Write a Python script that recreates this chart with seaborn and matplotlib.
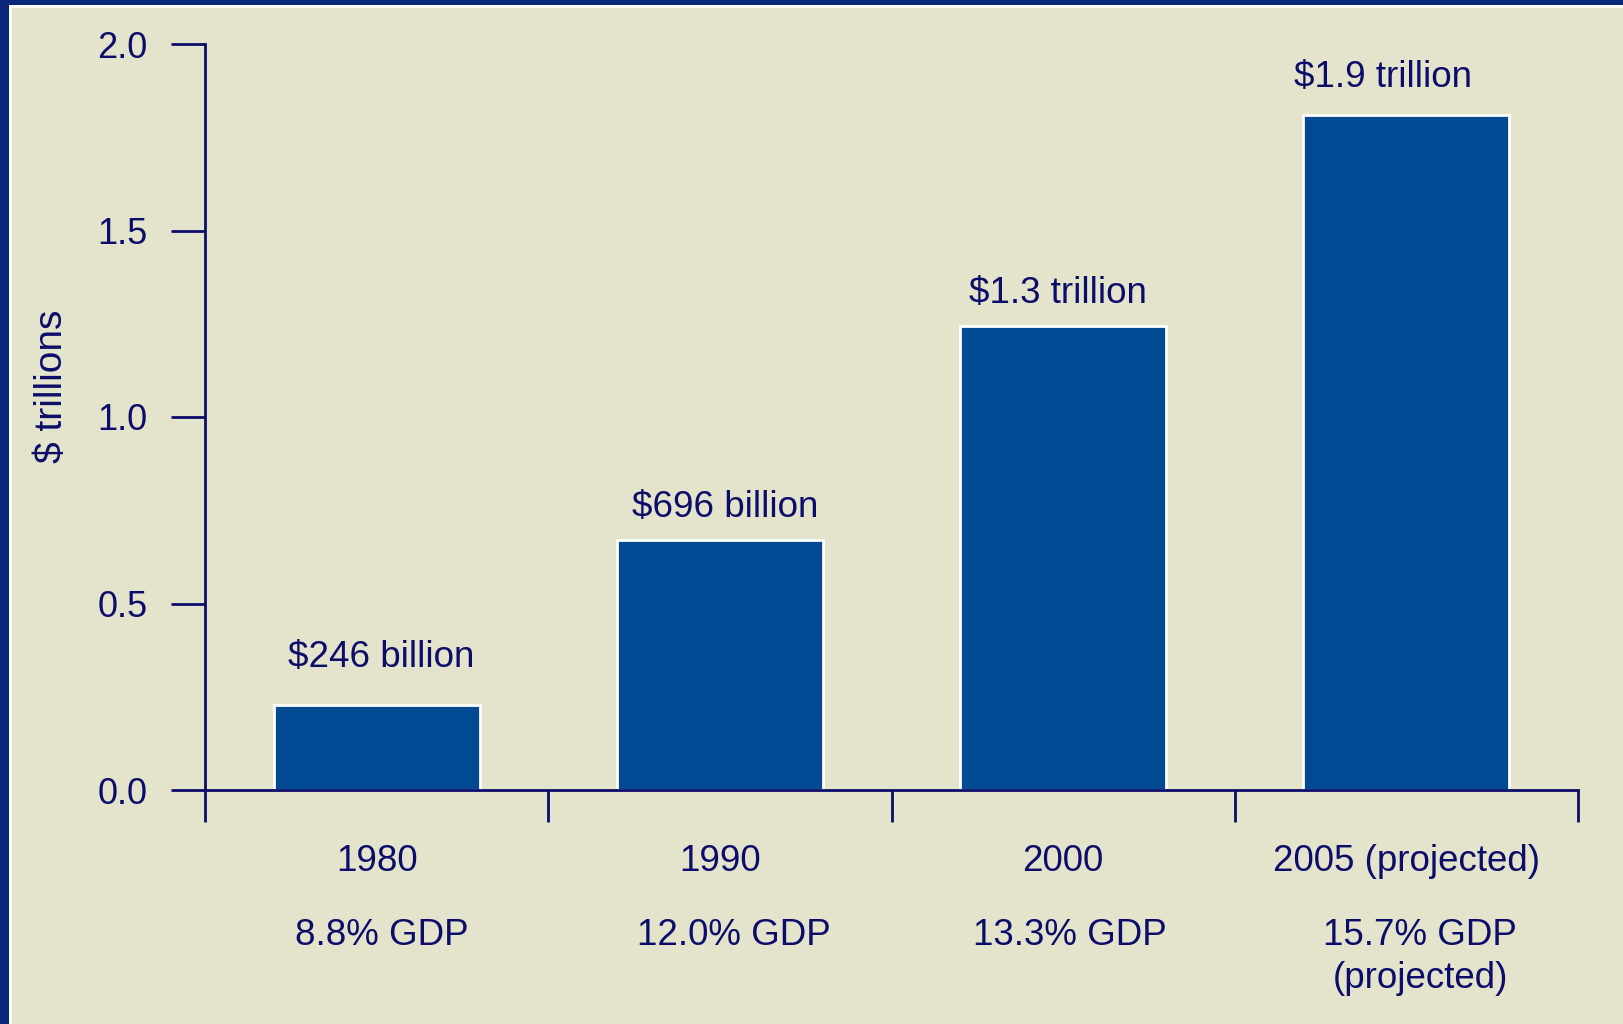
import matplotlib
matplotlib.use("Agg")
import matplotlib.pyplot as plt
import matplotlib.transforms as mtransforms
from matplotlib.patches import Rectangle
import seaborn as sns
import pandas as pd

# ---- data ----
years = ["1980", "1990", "2000", "2005 (projected)"]
spending = [0.228, 0.670, 1.244, 1.810]          # bar heights, $ trillions
value_labels = ["$246 billion", "$696 billion", "$1.3 trillion", "$1.9 trillion"]
gdp_labels = ["8.8% GDP", "12.0% GDP", "13.3% GDP", "15.7% GDP\n(projected)"]
y_ticks = [0.0, 0.5, 1.0, 1.5, 2.0]
y_ticklabels = ["0.0", "0.5", "1.0", "1.5", "2.0"]

# ---- style ----
BG = "#E4E4CC"
BORDER = "#0B2878"
BAR = "#004A93"
INK = "#0C0C6A"

sns.set_theme(style="white")
plt.rcParams["font.family"] = ["Liberation Sans", "DejaVu Sans"]

W, H = 1623, 1024
fig = plt.figure(figsize=(W / 100, H / 100), dpi=100)
fig.patch.set_facecolor(BORDER)
# frame: blue border on left/top, thin white line, beige field
fig.patches.append(Rectangle((9 / W, 0), 1, 1 - 5 / H, transform=fig.transFigure,
                             facecolor="white", edgecolor="none", zorder=-2))
fig.patches.append(Rectangle((12 / W, 0), 1, 1 - 8 / H, transform=fig.transFigure,
                             facecolor=BG, edgecolor="none", zorder=-1))

ax = fig.add_axes([205 / W, 1 - 790 / H, (1578 - 205) / W, (790 - 44) / H])
ax.set_facecolor("none")

df = pd.DataFrame({"year": years, "spending": spending})
sns.barplot(data=df, x="year", y="spending", color=BAR, saturation=1,
            width=0.6, edgecolor="white", linewidth=2, ax=ax)

ax.set_xlim(-0.5, len(years) - 0.5)
ax.set_ylim(0, 2.0)

for s in ["top", "right"]:
    ax.spines[s].set_visible(False)
for s in ["left", "bottom"]:
    ax.spines[s].set_color(INK)
    ax.spines[s].set_linewidth(2)

FS = 26.5
ax.set_yticks(y_ticks)
ax.set_yticklabels(y_ticklabels)
ax.tick_params(axis="y", direction="out", length=24.5, width=2, color=INK,
               labelcolor=INK, labelsize=26, pad=17, left=True)

ax.set_xticks(range(len(years)))
ax.set_xticklabels(years)
ax.set_xticks([i - 0.5 for i in range(len(years) + 1)], minor=True)
ax.tick_params(axis="x", which="major", length=0, labelcolor=INK,
               labelsize=FS, pad=39)
ax.tick_params(axis="x", which="minor", direction="out", length=23, width=2,
               color=INK, bottom=True)
ax.set_xlabel("")

ax.set_ylabel("$ trillions", color=INK, fontsize=28)
ax.yaxis.set_label_coords(-0.098, 0.5416)

# value labels above bars (offsets in points)
lab_dx = [3.5, 3.5, -3.5, -17]
lab_dy = [34, 23.5, 23.5, 27]
for i, (v, t) in enumerate(zip(spending, value_labels)):
    ax.annotate(t, xy=(i, v), xytext=(lab_dx[i], lab_dy[i]),
                textcoords="offset points", ha="center", va="center",
                color=INK, fontsize=FS)

# GDP share row below the year labels
trans = mtransforms.blended_transform_factory(ax.transData, ax.transAxes)
gdp_dx = [0.015, 0.04, 0.02, 0.04]
for i, t in enumerate(gdp_labels):
    ax.text(i + gdp_dx[i], -0.172, t, transform=trans, ha="center", va="top",
            color=INK, fontsize=FS, linespacing=1.3)

fig.savefig("out.png", dpi=100, facecolor=fig.get_facecolor())
